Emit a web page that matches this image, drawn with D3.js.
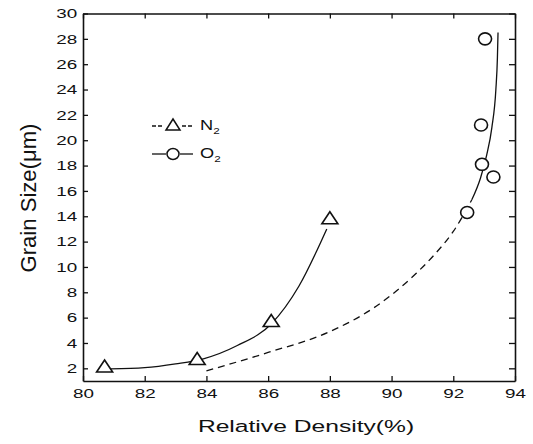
<!DOCTYPE html>
<html>
<head>
<meta charset="utf-8">
<script src="https://cdn.jsdelivr.net/npm/d3@7"></script>
<style>
    body { margin: 0; background: #fff; }
    text { font-family: "Liberation Sans", Arial, sans-serif; fill: #111; }
</style>
</head>
<body>
<div id="chart"></div>
<script>
// data
var n2Density = [80.7, 83.7, 86.1, 88.0],
    n2Size = [2.1, 2.7, 5.7, 13.8];
var o2Density = [92.45, 92.9, 92.93, 93.3, 93.03],
    o2Size = [14.3, 21.2, 18.1, 17.1, 28.0];

// fitted guide curves (traced)
var n2CurveX = [80.9, 82.0, 83.0, 83.9, 85.0, 86.1, 87.0, 87.9],
    n2CurveY = [1.95, 2.05, 2.35, 2.75, 3.8, 5.5, 8.5, 13.0];
var o2DashX = [84.0, 86.0, 88.0, 89.5, 90.8, 91.4, 92.0, 92.6],
    o2DashY = [1.8, 3.25, 4.9, 6.9, 9.5, 11.0, 12.8, 15.3];
var o2SolidX = [92.6, 92.88, 93.08, 93.25, 93.38, 93.43, 93.45],
    o2SolidY = [15.3, 17.0, 18.8, 21.0, 24.0, 26.5, 28.5];

var xTicks = [80, 82, 84, 86, 88, 90, 92, 94],
    yTicks = [2, 4, 6, 8, 10, 12, 14, 16, 18, 20, 22, 24, 26, 28, 30];

// note: "top" is taken by window.top, so plot edges get own names
var width = 533, height = 444,
    plotL = 83, plotR = 515, plotT = 13.5, plotB = 381,
    stretch = 1.45;

var svg = d3.select("#chart").append("svg")
    .attr("width", width)
    .attr("height", height);

var x = d3.scaleLinear().domain([80, 94]).range([plotL, plotR]),
    y = d3.scaleLinear().domain([1, 30]).range([plotB, plotT]);

function zip(a, b) {
    return a.map(function(v, i) { return [v, b[i]]; });
}

// axes, ticks inward on all four sides
function styleAxis(g) {
    g.select(".domain").attr("stroke", "#111").attr("stroke-width", 1.6);
    g.selectAll(".tick line").attr("stroke", "#111").attr("stroke-width", 1.3);
}

var gx = svg.append("g")
    .attr("transform", "translate(0," + plotB + ")")
    .call(d3.axisBottom(x).tickValues(xTicks).tickSizeInner(-5).tickSizeOuter(0).tickPadding(8))
    .call(styleAxis);
gx.selectAll("text")
    .attr("font-size", 13)
    .attr("transform", "scale(" + stretch + ",1)");

var gy = svg.append("g")
    .attr("transform", "translate(" + plotL + ",0)")
    .call(d3.axisLeft(y).tickValues(yTicks).tickSizeInner(-5).tickSizeOuter(0).tickPadding(4))
    .call(styleAxis);
gy.selectAll("text")
    .attr("font-size", 13)
    .attr("transform", "scale(" + stretch + ",1)");

svg.append("g")
    .attr("transform", "translate(0," + plotT + ")")
    .call(d3.axisTop(x).tickValues(xTicks).tickSizeInner(-5).tickSizeOuter(0).tickFormat(""))
    .call(styleAxis);

svg.append("g")
    .attr("transform", "translate(" + plotR + ",0)")
    .call(d3.axisRight(y).tickValues(yTicks).tickSizeInner(-6).tickSizeOuter(0).tickFormat(""))
    .call(styleAxis);

// axis titles
svg.append("text")
    .attr("transform", "translate(306,432) scale(" + stretch + ",1)")
    .attr("text-anchor", "middle")
    .attr("font-size", 17)
    .text("Relative Density(%)");

svg.append("text")
    .attr("transform", "translate(36,198) rotate(-90) scale(1.3,1.3)")
    .attr("text-anchor", "middle")
    .attr("font-size", 17)
    .text("Grain Size(\u03bcm)");

// curves
var line = d3.line()
    .x(function(d) { return x(d[0]); })
    .y(function(d) { return y(d[1]); })
    .curve(d3.curveMonotoneX);

svg.append("path")
    .attr("d", line(zip(n2CurveX, n2CurveY)))
    .attr("fill", "none").attr("stroke", "#111").attr("stroke-width", 1.3);

svg.append("path")
    .attr("d", line(zip(o2DashX, o2DashY)))
    .attr("fill", "none").attr("stroke", "#111").attr("stroke-width", 1.3)
    .attr("stroke-dasharray", "7,5");

svg.append("path")
    .attr("d", line(zip(o2SolidX, o2SolidY)))
    .attr("fill", "none").attr("stroke", "#111").attr("stroke-width", 1.3);

// markers
var tri = "M0,-7L8,5L-8,5Z";

svg.selectAll(".n2").data(zip(n2Density, n2Size)).enter()
    .append("path")
    .attr("class", "n2")
    .attr("d", tri)
    .attr("transform", function(d) { return "translate(" + x(d[0]) + "," + y(d[1]) + ")"; })
    .attr("fill", "#fff").attr("stroke", "#111").attr("stroke-width", 1.6);

svg.selectAll(".o2").data(zip(o2Density, o2Size)).enter()
    .append("ellipse")
    .attr("class", "o2")
    .attr("cx", function(d) { return x(d[0]); })
    .attr("cy", function(d) { return y(d[1]); })
    .attr("rx", 6.5).attr("ry", 6)
    .attr("fill", "#fff").attr("stroke", "#111").attr("stroke-width", 1.6);

// legend
var lg = svg.append("g");

lg.append("line").attr("x1", 152).attr("x2", 163).attr("y1", 126).attr("y2", 126)
    .attr("stroke", "#111").attr("stroke-width", 1.3).attr("stroke-dasharray", "4,2");
lg.append("line").attr("x1", 182).attr("x2", 193).attr("y1", 126).attr("y2", 126)
    .attr("stroke", "#111").attr("stroke-width", 1.3).attr("stroke-dasharray", "4,2");
lg.append("path").attr("d", "M0,-6L7,5L-7,5Z")
    .attr("transform", "translate(173,125)")
    .attr("fill", "#fff").attr("stroke", "#111").attr("stroke-width", 1.5);

lg.append("line").attr("x1", 152).attr("x2", 166).attr("y1", 154).attr("y2", 154)
    .attr("stroke", "#111").attr("stroke-width", 1.3);
lg.append("line").attr("x1", 180).attr("x2", 193).attr("y1", 154).attr("y2", 154)
    .attr("stroke", "#111").attr("stroke-width", 1.3);
lg.append("ellipse").attr("cx", 173).attr("cy", 154).attr("rx", 6).attr("ry", 5.5)
    .attr("fill", "#fff").attr("stroke", "#111").attr("stroke-width", 1.5);

var legendNames = ["N", "O"],
    legendRows = [130, 158];

legendNames.forEach(function(name, i) {
    var t = lg.append("text")
        .attr("transform", "translate(200," + legendRows[i] + ") scale(1.3,1)")
        .attr("font-size", 14);
    t.append("tspan").text(name);
    t.append("tspan").attr("font-size", 9).attr("dy", 4).text("2");
});
</script>
</body>
</html>
